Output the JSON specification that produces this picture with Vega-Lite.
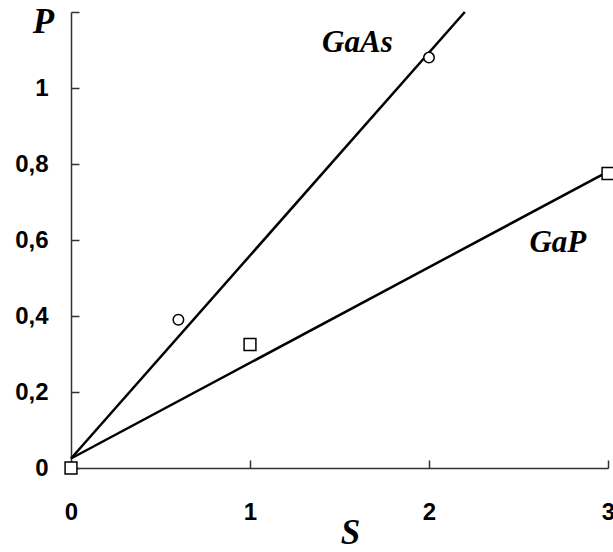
{
  "$schema": "https://vega.github.io/schema/vega-lite/v6.json",
  "width": 537,
  "height": 456,
  "autosize": {"type": "none"},
  "padding": {"left": 71, "top": 12, "right": 5, "bottom": 84},
  "background": "white",
  "config": {
    "view": {"stroke": null},
    "axis": {
      "grid": false,
      "domainColor": "#333333",
      "domainWidth": 1.5,
      "tickColor": "#333333",
      "tickWidth": 1.5,
      "labelFont": "Liberation Sans",
      "labelFontWeight": "bold",
      "labelFontSize": 24,
      "labelColor": "black",
      "titleFont": "Liberation Serif",
      "titleFontStyle": "italic",
      "titleFontWeight": "bold",
      "titleFontSize": 35,
      "titleColor": "black"
    }
  },
  "datasets": {
    "points": [
      {"S": 0, "P": 0, "material": "GaAs"},
      {"S": 0.6, "P": 0.39, "material": "GaAs"},
      {"S": 2, "P": 1.08, "material": "GaAs"},
      {"S": 0, "P": 0, "material": "GaP"},
      {"S": 1, "P": 0.325, "material": "GaP"},
      {"S": 3, "P": 0.775, "material": "GaP"}
    ],
    "fits": [
      {"S": 0, "P": 0.025, "material": "GaAs"},
      {"S": 2.2, "P": 1.2, "material": "GaAs"},
      {"S": 0, "P": 0.025, "material": "GaP"},
      {"S": 3, "P": 0.78, "material": "GaP"}
    ],
    "labels": [
      {"S": 1.6, "P": 1.095, "text": "GaAs"},
      {"S": 2.72, "P": 0.568, "text": "GaP"}
    ]
  },
  "layer": [
    {
      "data": {"name": "fits"},
      "mark": {"type": "line", "color": "black", "strokeWidth": 2.5},
      "encoding": {
        "x": {
          "field": "S", "type": "quantitative",
          "scale": {"domain": [0, 3], "nice": false, "zero": false},
          "axis": {
            "values": [0, 1, 2, 3],
            "format": "d",
            "tickSize": -8,
            "labelPadding": 40,
            "labelFlush": false,
            "title": "S",
            "titleX": 279,
            "titleY": 75,
            "titleAlign": "center",
            "titleBaseline": "alphabetic"
          }
        },
        "y": {
          "field": "P", "type": "quantitative",
          "scale": {"domain": [0, 1.2], "nice": false},
          "axis": {
            "values": [0, 0.2, 0.4, 0.6, 0.8, 1, 1.2],
            "tickSize": -8,
            "labelPadding": 31,
            "labelFlush": false,
            "labelExpr": "datum.value > 1.1 ? '' : replace(format(datum.value, '~g'), '.', ',')",
            "title": "P",
            "titleAngle": 0,
            "titleX": -28,
            "titleY": 20,
            "titleAlign": "center",
            "titleBaseline": "alphabetic"
          }
        },
        "detail": {"field": "material"}
      }
    },
    {
      "data": {"name": "points"},
      "mark": {"type": "point", "filled": false, "fill": "white", "fillOpacity": 1, "stroke": "black", "strokeWidth": 1.5, "opacity": 1},
      "encoding": {
        "x": {"field": "S", "type": "quantitative"},
        "y": {"field": "P", "type": "quantitative"},
        "shape": {
          "field": "material", "type": "nominal",
          "scale": {"domain": ["GaAs", "GaP"], "range": ["circle", "square"]},
          "legend": null
        },
        "size": {
          "field": "material", "type": "nominal",
          "scale": {"domain": ["GaAs", "GaP"], "range": [110, 140]},
          "legend": null
        }
      }
    },
    {
      "data": {"name": "labels"},
      "mark": {"type": "text", "font": "Liberation Serif", "fontStyle": "italic", "fontWeight": "bold", "fontSize": 31, "color": "black", "align": "center", "baseline": "alphabetic"},
      "encoding": {
        "x": {"field": "S", "type": "quantitative"},
        "y": {"field": "P", "type": "quantitative"},
        "text": {"field": "text"}
      }
    }
  ]
}
